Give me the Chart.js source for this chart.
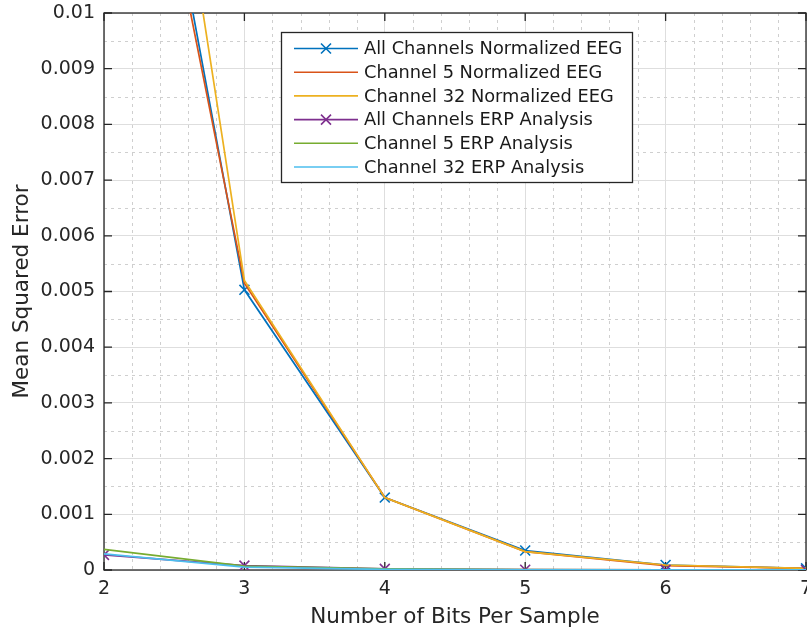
<!DOCTYPE html>
<html>
<head>
<meta charset="utf-8">
<script src="https://cdn.jsdelivr.net/npm/chart.js@4/dist/chart.umd.min.js"></script>
<style>
html,body{margin:0;padding:0;background:#fff;overflow:hidden;width:807px;height:630px;}
canvas{display:block;}
</style>
</head>
<body>
<canvas id="c" width="830" height="630"></canvas>
<script>
// ---- data ----
const bits = [2, 3, 4, 5, 6, 7];
const allChannelsEEG = [0.0186, 0.00503, 0.0013, 0.00035, 0.00009, 0.00003];
const channel5EEG    = [0.0178, 0.00515, 0.0013, 0.00033, 0.00008, 0.00003];
const channel32EEG   = [0.0215, 0.0052, 0.0013, 0.00033, 0.00009, 0.00003];
const allChannelsERP = [0.00027, 0.00008, 0.00002, 0.000005, 0.000002, 0.000001];
const channel5ERP    = [0.00037, 0.00007, 0.00002, 0.000005, 0.000002, 0.000001];
const channel32ERP   = [0.00029, 0.00005, 0.00001, 0.000004, 0.000002, 0.000001];
const seriesNames = [
  'All Channels Normalized EEG',
  'Channel 5 Normalized EEG',
  'Channel 32 Normalized EEG',
  'All Channels ERP Analysis',
  'Channel 5 ERP Analysis',
  'Channel 32 ERP Analysis'
];
const xTicks = [2, 3, 4, 5, 6, 7];
const yTicks = [0, 0.001, 0.002, 0.003, 0.004, 0.005, 0.006, 0.007, 0.008, 0.009, 0.01];
const xLabel = 'Number of Bits Per Sample';
const yLabel = 'Mean Squared Error';

const colors = ['#0072BD', '#D95319', '#EDB120', '#7E2F8E', '#77AC30', '#4DBEEE'];
const markers = [true, false, false, true, false, false];
const values = [allChannelsEEG, channel5EEG, channel32EEG, allChannelsERP, channel5ERP, channel32ERP];

const FONT = '"DejaVu Sans", "Liberation Sans", sans-serif';
const AXC = '#262626';

const datasets = values.map((vals, i) => ({
  label: seriesNames[i],
  data: bits.map((b, j) => ({x: b, y: vals[j]})),
  order: values.length - 1 - i,
  borderColor: colors[i],
  backgroundColor: colors[i],
  borderWidth: 1.7,
  pointStyle: 'crossRot',
  pointRadius: markers[i] ? 7 : 0,
  pointHoverRadius: markers[i] ? 7 : 0,
  pointBorderWidth: 1.6,
  tension: 0,
  fill: false
}));

const decorPlugin = {
  id: 'decor',
  beforeDatasetsDraw(chart) {
    const {ctx, chartArea: a, scales: {x, y}} = chart;
    ctx.save();
    // minor grid (dotted)
    ctx.strokeStyle = '#cfcfcf';
    ctx.lineWidth = 1;
    ctx.setLineDash([3, 4]);
    for (let k = 0; k <= 25; k++) {
      const v = xTicks[0] + k * 0.2;
      if (k % 5 === 0) continue;
      const px = Math.round(x.getPixelForValue(v)) + 0.5;
      ctx.beginPath(); ctx.moveTo(px, a.top); ctx.lineTo(px, a.bottom); ctx.stroke();
    }
    for (let k = 0; k <= 20; k++) {
      if (k % 2 === 0) continue;
      const v = k * 0.0005;
      const py = Math.round(y.getPixelForValue(v)) + 0.5;
      ctx.beginPath(); ctx.moveTo(a.left, py); ctx.lineTo(a.right, py); ctx.stroke();
    }
    ctx.setLineDash([]);
    // box + inward ticks
    ctx.strokeStyle = AXC;
    ctx.lineWidth = 1.3;
    ctx.strokeRect(a.left, a.top, a.right - a.left, a.bottom - a.top);
    const tl = 8;
    xTicks.forEach(v => {
      const px = x.getPixelForValue(v);
      ctx.beginPath();
      ctx.moveTo(px, a.bottom); ctx.lineTo(px, a.bottom - tl);
      ctx.moveTo(px, a.top); ctx.lineTo(px, a.top + tl);
      ctx.stroke();
    });
    yTicks.forEach(v => {
      const py = y.getPixelForValue(v);
      ctx.beginPath();
      ctx.moveTo(a.left, py); ctx.lineTo(a.left + tl, py);
      ctx.moveTo(a.right, py); ctx.lineTo(a.right - tl, py);
      ctx.stroke();
    });
    ctx.restore();
  },
  afterDatasetsDraw(chart) {
    const {ctx, chartArea: a} = chart;
    ctx.save();
    const bx = a.left + 177, by = a.top + 19, bw = 351, bh = 150;
    ctx.fillStyle = '#ffffff';
    ctx.fillRect(bx, by, bw, bh);
    ctx.strokeStyle = AXC;
    ctx.lineWidth = 1.3;
    ctx.strokeRect(bx + 0.5, by + 0.5, bw, bh);
    ctx.font = '17.8px ' + FONT;
    ctx.textBaseline = 'middle';
    ctx.textAlign = 'left';
    chart.data.datasets.forEach((ds, i) => {
      const cy = by + 16.5 + i * 23.7;
      ctx.strokeStyle = ds.borderColor;
      ctx.lineWidth = 1.6;
      ctx.beginPath(); ctx.moveTo(bx + 13, cy); ctx.lineTo(bx + 77, cy); ctx.stroke();
      if (markers[i]) {
        const mx = bx + 45, r = 5;
        ctx.beginPath();
        ctx.moveTo(mx - r, cy - r); ctx.lineTo(mx + r, cy + r);
        ctx.moveTo(mx - r, cy + r); ctx.lineTo(mx + r, cy - r);
        ctx.stroke();
      }
      ctx.fillStyle = '#1a1a1a';
      ctx.fillText(ds.label, bx + 83, cy + 1);
    });
    ctx.restore();
  }
};

new Chart(document.getElementById('c'), {
  type: 'line',
  data: {datasets},
  plugins: [decorPlugin],
  options: {
    responsive: false,
    animation: false,
    events: [],
    layout: {padding: {left: 0, top: 13, right: 24, bottom: 0}},
    plugins: {legend: {display: false}, tooltip: {enabled: false}},
    scales: {
      x: {
        type: 'linear',
        min: 2, max: 7,
        afterFit(s) { s.height = 60; s.paddingLeft = 0; s.paddingRight = 0; },
        afterBuildTicks(s) { s.ticks = xTicks.map(v => ({value: v})); },
        ticks: {
          font: {family: FONT, size: 19}, color: AXC, padding: 8,
          maxRotation: 0, autoSkip: false,
          callback: v => String(v)
        },
        grid: {color: '#dedede', lineWidth: 1, drawTicks: false},
        border: {display: false},
        title: {display: true, text: xLabel, color: AXC,
                font: {family: FONT, size: 21.5}, padding: {top: 0, bottom: 0}}
      },
      y: {
        type: 'linear',
        min: 0, max: 0.01,
        afterFit(s) { s.width = 104; s.paddingTop = 0; s.paddingBottom = 0; },
        afterBuildTicks(s) { s.ticks = yTicks.map(v => ({value: v})); },
        ticks: {
          font: {family: FONT, size: 19}, color: AXC, padding: 9,
          autoSkip: false,
          callback: v => String(+(+v).toFixed(4))
        },
        grid: {color: '#dedede', lineWidth: 1, drawTicks: false},
        border: {display: false},
        title: {display: true, text: yLabel, color: AXC,
                font: {family: FONT, size: 21.5}, padding: {top: 10, bottom: 0}}
      }
    }
  }
});
</script>
</body>
</html>
